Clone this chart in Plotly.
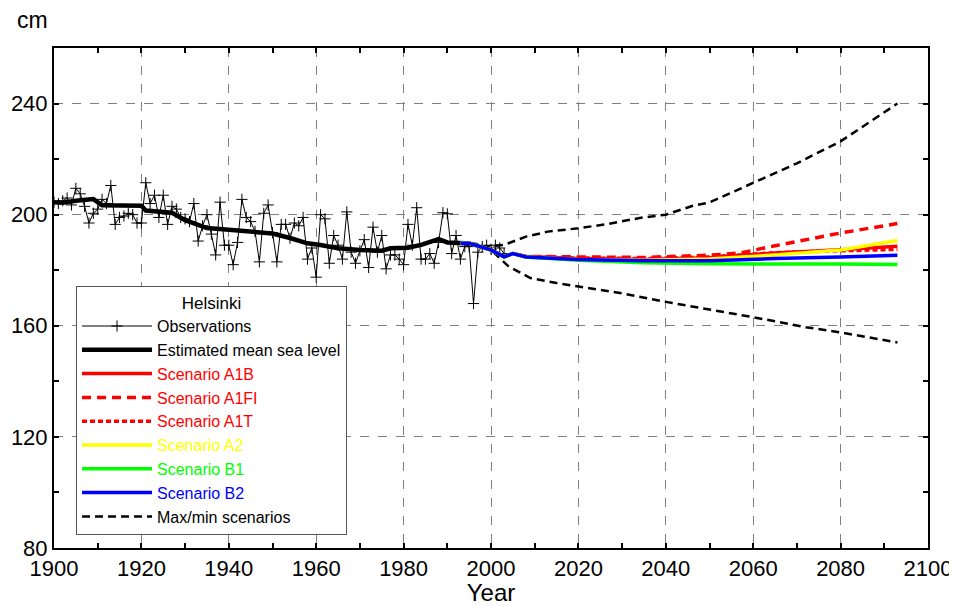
import plotly.graph_objects as go

# ---------------- data ----------------
obs_years = list(range(1900, 2004))
obs_vals = [204.5, 204, 205, 206, 203.5, 209.5, 207.5, 203, 197, 200.5,
            202, 205.5, 204, 210.5, 196.5, 199, 199.5, 200.5, 200, 197,
            197, 211.5, 204, 207, 199, 207, 196.5, 203, 202, 199,
            198.5, 197.5, 204, 190.5, 196, 200, 193, 185.5, 204.5, 189,
            189, 182, 190, 205.5, 199, 197.5, 194, 183, 200.5, 203.5,
            193.5, 183, 196.5, 196.5, 191.5, 197, 196, 199, 184, 188,
            177.5, 200, 198.5, 182.5, 192.5, 189, 184, 201, 186.5, 182.5,
            187, 191, 181, 195.5, 186.5, 192.5, 180.5, 185.5, 185.5, 184,
            182, 196.5, 189, 202.5, 184, 184, 186, 182.5, 190, 200.7,
            200.3, 186, 192.5, 184, 188.5, 188.5, 168, 186.5, 188.5, 189,
            187.5, 189, 188, 186]

mean_years = [1900, 1902, 1905, 1909, 1911, 1915, 1920, 1921, 1924, 1927, 1930,
              1933, 1935, 1940, 1946, 1950, 1954, 1958, 1961, 1965, 1970, 1975,
              1977, 1981, 1984, 1988, 1990, 1994, 1997]
mean_vals = [204.5, 204.3, 205, 205.6, 203.4, 203.2, 203.2, 201.5, 201, 200.7, 198,
             196.5, 195.2, 194.6, 194, 193.2, 191.6, 189.7, 189.1, 187.9, 187.3, 187,
             187.9, 188.1, 189.1, 191.2, 190, 189.7, 189]

scen_years = [1993, 1995, 2000, 2003, 2005, 2008, 2020, 2035, 2050, 2057, 2065, 2080, 2093]
a1b = [189.7, 189.7, 187.3, 184.8, 186, 184.9, 184.2, 183.9, 184.5, 185.3, 186.2, 187.4, 188.6]
a1fi = [189.7, 189.7, 187.3, 184.8, 186, 185.0, 184.8, 184.6, 185.4, 186.2, 188.8, 193.4, 196.8]
a1t = [189.7, 189.7, 187.3, 184.8, 186, 184.9, 184.4, 184.2, 184.8, 185.6, 186.3, 187.0, 187.5]
a2 = [189.7, 189.7, 187.3, 184.8, 186, 184.8, 183.9, 183.6, 184.0, 184.6, 185.5, 187.3, 190.7]
b1 = [189.7, 189.7, 187.3, 184.8, 186, 184.8, 183.6, 182.7, 182.3, 182.2, 182.2, 182.2, 182.1]
b2 = [189.7, 189.7, 187.3, 184.8, 186, 184.8, 183.9, 183.4, 183.4, 183.9, 184.2, 184.8, 185.4]

max_years = [1995, 1999, 2003, 2008, 2013, 2020, 2027, 2034, 2040, 2046, 2050, 2060, 2070, 2080, 2093]
max_vals = [189.5, 188.5, 189.1, 192.1, 193.9, 195.1, 196.7, 198.8, 200, 203.1, 204.4, 211.5, 218.5, 226.4, 240]
min_years = [1995, 2000, 2004, 2009, 2015, 2023, 2030, 2040, 2049, 2060, 2072, 2080, 2093]
min_vals = [189.5, 187.3, 181.4, 177.2, 175.4, 173.5, 171.7, 168.6, 166.2, 163.1, 159.5, 157.6, 154.0]

x_ticks = [1900, 1920, 1940, 1960, 1980, 2000, 2020, 2040, 2060, 2080, 2100]
y_ticks = [80, 120, 160, 200, 240]

# ---------------- figure ----------------
FONT = "Liberation Sans, Arial, sans-serif"

fig = go.Figure()

fig.add_trace(go.Scatter(
    x=obs_years, y=obs_vals, mode="lines+markers", name="Observations",
    line=dict(color="black", width=1),
    marker=dict(symbol="cross-thin", size=8, line=dict(color="black", width=1)),
    legendrank=1))
fig.add_trace(go.Scatter(
    x=mean_years, y=mean_vals, mode="lines", name="Estimated mean sea level",
    line=dict(color="black", width=4.5), legendrank=2))

fig.add_trace(go.Scatter(x=max_years, y=max_vals, mode="lines", name="Max/min scenarios",
                         line=dict(color="black", width=2.5, dash="8px,5px"),
                         legendgroup="mm", legendrank=9))
fig.add_trace(go.Scatter(x=min_years, y=min_vals, mode="lines", name="Max/min scenarios",
                         line=dict(color="black", width=2.5, dash="8px,5px"),
                         legendgroup="mm", showlegend=False))

fig.add_trace(go.Scatter(x=scen_years, y=a1fi, mode="lines",
                         name='<span style="color:#ff0000">Scenario A1FI</span>',
                         line=dict(color="#ff0000", width=3.5, dash="9px,6px"), legendrank=4))
fig.add_trace(go.Scatter(x=scen_years, y=a1t, mode="lines",
                         name='<span style="color:#ff0000">Scenario A1T</span>',
                         line=dict(color="#ff0000", width=3.5, dash="5px,3px"), legendrank=5))
fig.add_trace(go.Scatter(x=scen_years, y=a1b, mode="lines",
                         name='<span style="color:#ff0000">Scenario A1B</span>',
                         line=dict(color="#ff0000", width=3.5), legendrank=3))
fig.add_trace(go.Scatter(x=scen_years, y=a2, mode="lines",
                         name='<span style="color:#ffff00">Scenario A2</span>',
                         line=dict(color="#ffff00", width=3.5), legendrank=6))
fig.add_trace(go.Scatter(x=scen_years, y=b1, mode="lines",
                         name='<span style="color:#00ff00">Scenario B1</span>',
                         line=dict(color="#00ff00", width=3.5), legendrank=7))
fig.add_trace(go.Scatter(x=scen_years, y=b2, mode="lines",
                         name='<span style="color:#0000ff">Scenario B2</span>',
                         line=dict(color="#0000ff", width=3.5), legendrank=8))

axis_common = dict(
    showline=True, linecolor="black", linewidth=2, mirror="ticks",
    ticks="inside", ticklen=5, tickwidth=1.5, tickcolor="black",
    showgrid=True, gridcolor="#7f7f7f", gridwidth=1, griddash="dash",
    zeroline=False, automargin=False,
    tickfont=dict(family=FONT, size=22, color="black"),
)

fig.update_xaxes(range=[1900, 2100], tickvals=x_ticks, ticktext=[str(v) for v in x_ticks],
                 minor=dict(dtick=10, ticks="inside", ticklen=5, tickcolor="black", showgrid=False),
                 title=dict(text="Year", font=dict(family=FONT, size=24, color="black"), standoff=4),
                 **axis_common)
fig.update_yaxes(range=[80, 260], tickvals=y_ticks, ticktext=[str(v) for v in y_ticks],
                 minor=dict(dtick=20, ticks="inside", ticklen=5, tickcolor="black", showgrid=False),
                 ticklabelstandoff=0,
                 **axis_common)

fig.add_annotation(text="cm", xref="paper", yref="paper", x=-0.0446, y=1.057,
                   xanchor="left", yanchor="middle", showarrow=False,
                   font=dict(family=FONT, size=23, color="black"))

# The page body adds an 8px offset, so the figure is sized to fit the window.
fig.update_layout(
    width=949, height=598,
    margin=dict(l=46, r=29, t=40, b=58),
    paper_bgcolor="white", plot_bgcolor="white",
    showlegend=True,
    legend=dict(
        x=0.0252, y=0.524, xanchor="left", yanchor="top",
        bgcolor="white", bordercolor="#555555", borderwidth=1,
        font=dict(family=FONT, size=16, color="black"),
        title=dict(text="Helsinki", side="top center",
                   font=dict(family=FONT, size=17, color="black")),
        itemwidth=70, tracegroupgap=0,
    ),
)

fig.write_html("out.html")
